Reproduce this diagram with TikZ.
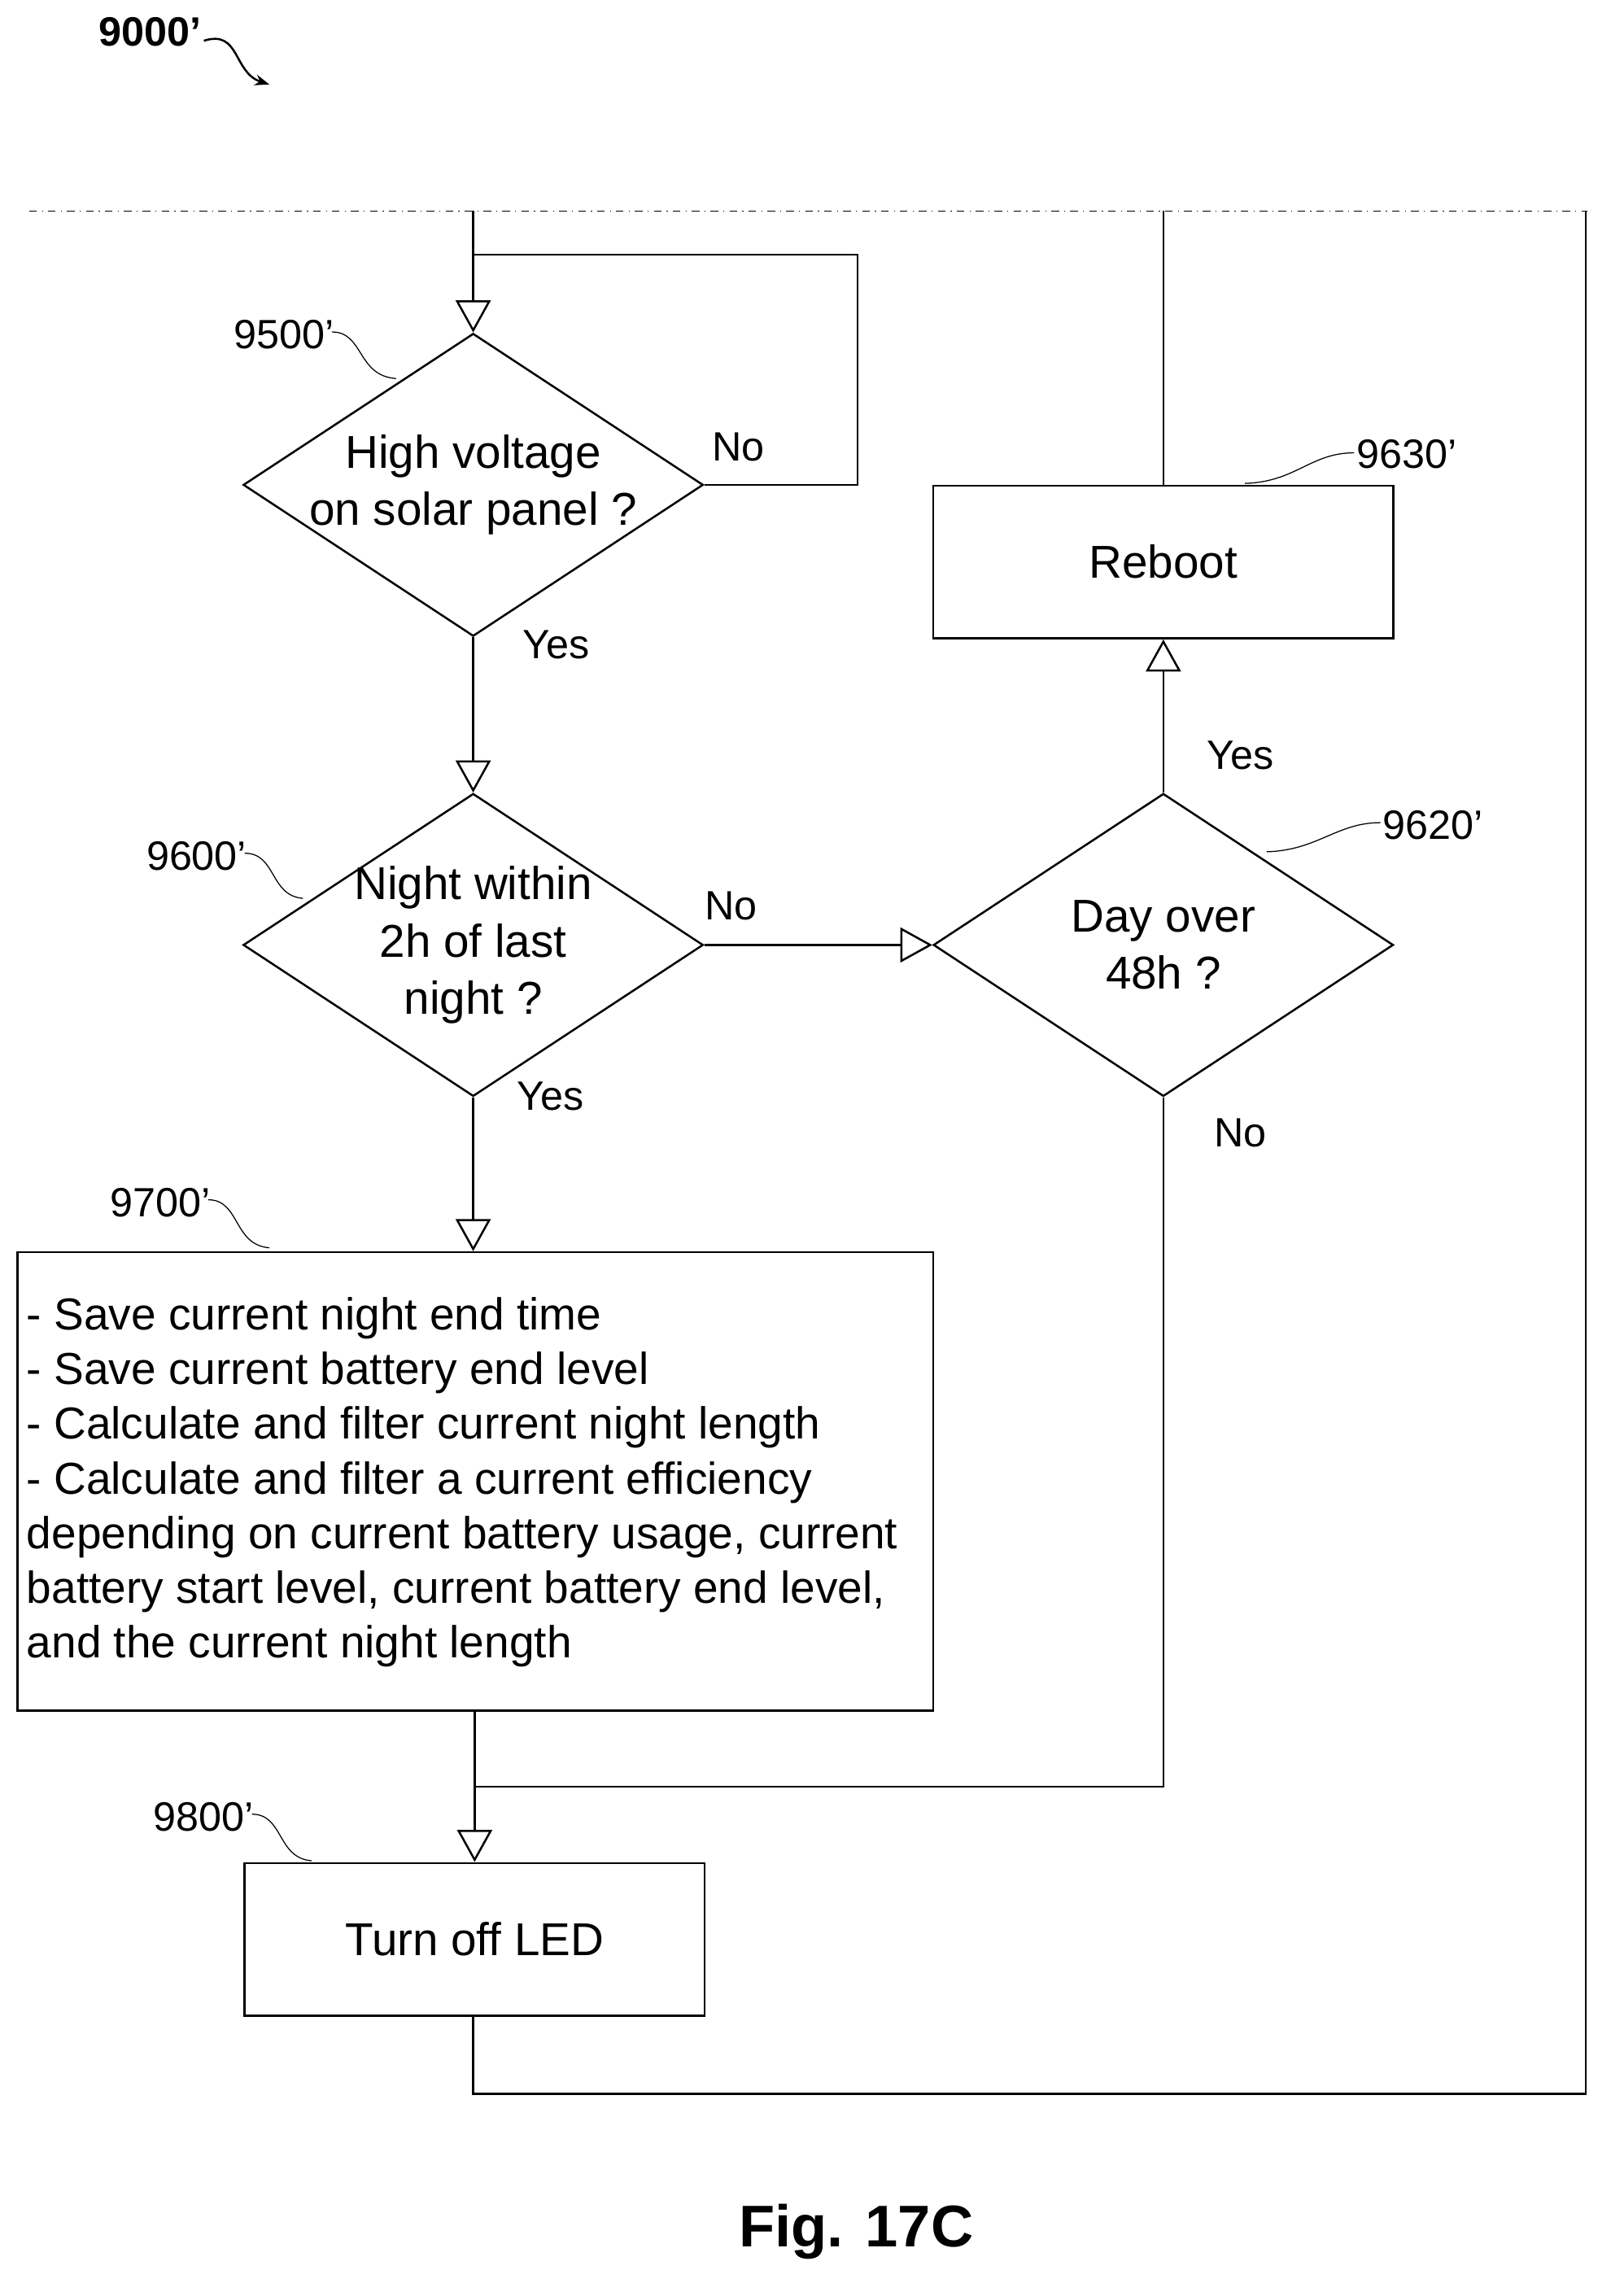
\documentclass[tikz,border=0pt]{standalone}
\usepackage{fontspec}
\setmainfont{Liberation Sans}
\usetikzlibrary{shapes.geometric,arrows.meta,positioning}
\tikzset{
	process/.style={draw, thick, minimum width=6.32cm, minimum height=2.1cm, inner sep=0pt, font=\fontsize{18}{22}\selectfont},
	test/.style={draw, thick, diamond, minimum width=6.32cm, minimum height=4.16cm, inner sep=0pt},
	testtext/.style={align=center, inner sep=0pt, font=\fontsize{18}{22.5}\selectfont},
	flow/.style={thick, -{Triangle[open, width=0.48cm, length=0.44cm]}},
	line/.style={thick},
	lbl/.style={font=\fontsize{16}{19}\selectfont},
	ref/.style={font=\fontsize{16}{19}\selectfont},
	leader/.style={thin},
}
\begin{document}
\begin{tikzpicture}[x=0.02cm, y=-0.02cm]
	\useasboundingbox (0,0) rectangle (1115,1568);

	\node[font=\bfseries\fontsize{16}{19}\selectfont] (fig) at (103,22) {9000’};
	\draw[thick, -{Stealth[length=0.2cm]}] (140,28) .. controls (165,20) and (160,50) .. (185,58);

	% dash-dot break line
	\coordinate (cutL) at (20,145);
	\coordinate (cutR) at (1090,145);
	\draw[thin, dash dot] (cutL) -- (cutR);

	\node[test] (high) at (325,333) {};
	\node[testtext] at (high) {High voltage\\on solar panel ?};
	\node[test] (night) at (325,649) {};
	\node[testtext] at (night) {Night within\\2h of last\\night ?};
	\node[test] (day) at (799,649) {};
	\node[testtext] at (day) {Day over\\48h ?};
	\node[process] (reboot) at (799,386) {Reboot};
	\node[draw, thick, minimum width=12.58cm, minimum height=6.3cm] (save) at (326.5,1017.5) {};
	\node[anchor=west, align=left, inner sep=0pt, font=\fontsize{17.5}{21.4}\selectfont] (savetext) at (18,1018) {%
		- Save current night end time\\
		- Save current battery end level\\
		- Calculate and filter current night length\\
		- Calculate and filter a current efficiency\\
		depending on current battery usage, current\\
		battery start level, current battery end level,\\
		and the current night length};
	\node[process] (led) at (326,1332) {Turn off LED};

	\coordinate (top) at (325,145);
	\coordinate (loop) at (325,175);
	\coordinate (loopR) at (589,175);
	\coordinate (noR) at (589,333);
	\coordinate (merge) at (325,1227);
	\coordinate (dayB) at (799,1227);
	\coordinate (backL) at (325,1438);
	\coordinate (backR) at (1089,1438);
	\coordinate (backT) at (1089,145);
	\coordinate (rebootT) at (799,145);

	\draw[flow] (top) -- (high.north);
	\draw[line] (high.east) -- (noR) -- (loopR) -- (loop);
	\draw[flow] (high.south) -- (night.north);
	\draw[flow] (night.east) -- (day.west);
	\draw[flow] (day.north) -- (reboot.south);
	\draw[line] (reboot.north) -- (rebootT);
	\draw[flow] (night.south) -- (save.north -| night.south);
	\draw[line] (day.south) -- (dayB) -- (merge);
	\draw[flow] (save.south -| led.north) -- (led.north);
	\draw[line] (led.south -| backL) -- (backL) -- (backR) -- (backT);

	% branch labels
	\node[lbl] at (507,307) {No};
	\node[lbl] at (382,443) {Yes};
	\node[lbl] at (502,622) {No};
	\node[lbl] at (378,753) {Yes};
	\node[lbl] at (852,519) {Yes};
	\node[lbl] at (852,778) {No};

	% reference numerals
	\node[ref] (r9500) at (195,230) {9500’};
	\draw[leader] (228,228) .. controls (250,228) and (245,258) .. (272,260);
	\node[ref] (r9600) at (135,588) {9600’};
	\draw[leader] (168,586) .. controls (190,586) and (185,615) .. (208,617);
	\node[ref] (r9700) at (110,826) {9700’};
	\draw[leader] (143,824) .. controls (165,824) and (160,855) .. (185,857);
	\node[ref] (r9800) at (140,1248) {9800’};
	\draw[leader] (173,1246) .. controls (195,1246) and (190,1276) .. (214,1278);
	\node[ref] (r9620) at (984,567) {9620’};
	\draw[leader] (948,565) .. controls (918,565) and (905,584) .. (870,585);
	\node[ref] (r9630) at (966,312) {9630’};
	\draw[leader] (930,311) .. controls (900,311) and (890,331) .. (855,332);

	\node[font=\bfseries\fontsize{23}{27}\selectfont] (caption) at (588,1533) {Fig. 17C};
\end{tikzpicture}
\end{document}
